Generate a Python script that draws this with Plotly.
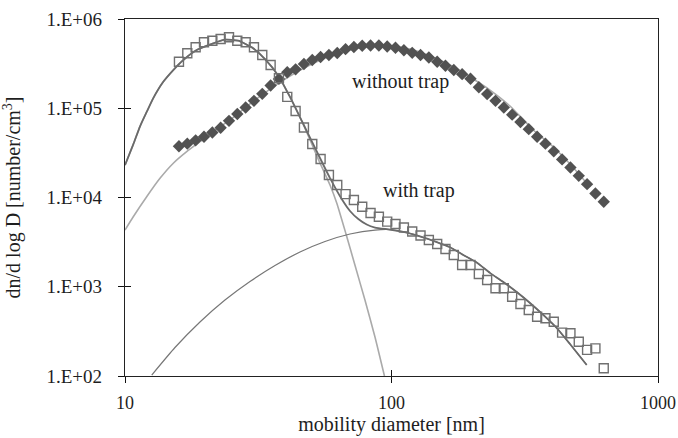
import plotly.graph_objects as go

# ---------------- data ----------------
# measured channels (mobility diameter, nm)
diam = [15.94, 17.13, 18.41, 19.79, 21.27, 22.85, 24.56, 26.39, 28.36, 30.47,
        32.74, 35.19, 37.81, 40.63, 43.67, 46.93, 50.43, 54.19, 58.23, 62.58,
        67.24, 72.26, 77.65, 83.44, 89.67, 96.36, 103.5, 111.3, 119.6, 128.5,
        138.1, 148.4, 159.4, 171.3, 184.1, 197.9, 212.7, 228.5, 245.6, 263.9,
        283.6, 304.7, 327.4, 351.9, 378.1, 406.3, 436.7, 469.3, 504.3, 541.9,
        582.3, 625.8]

with_trap = [3.32e5, 4.13e5, 4.82e5, 5.48e5, 5.71e5, 5.97e5, 6.24e5, 5.71e5, 5.48e5, 4.82e5,
             3.95e5, 3.05e5, 2.17e5, 1.34e5, 9.32e4, 6.09e4, 3.98e4, 2.70e4, 1.79e4, 1.38e4,
             1.09e4, 9.38e3, 7.89e3, 6.70e3, 6.09e3, 5.36e3, 5.05e3, 4.61e3, 4.16e3, 3.75e3,
             3.34e3, 3.01e3, 2.65e3, 2.27e3, 1.75e3, 1.75e3, 1.39e3, 1.19e3, 961, 961,
             774, 641, 549, 462, 443, 406, 306, 301, 242, 196,
             204, 122]

without_trap = [3.75e4, 4.01e4, 4.37e4, 4.80e4, 5.35e4, 6.04e4, 7.23e4, 8.62e4, 1.02e5, 1.21e5,
                1.45e5, 1.80e5, 2.13e5, 2.53e5, 2.73e5, 3.13e5, 3.47e5, 3.75e5, 3.95e5, 4.16e5,
                4.59e5, 4.86e5, 5.01e5, 5.05e5, 5.05e5, 4.92e5, 4.76e5, 4.46e5, 4.18e5, 3.95e5,
                3.70e5, 3.32e5, 2.99e5, 2.68e5, 2.41e5, 2.14e5, 1.72e5, 1.44e5, 1.21e5, 1.02e5,
                8.47e4, 7.01e4, 5.83e4, 4.80e4, 4.01e4, 3.29e4, 2.67e4, 2.17e4, 1.75e4, 1.41e4,
                1.11e4, 8.97e3]

# fitted curves
fit_total_d = [10.0, 10.74, 11.38, 12.06, 12.77, 13.92, 15.18, 16.55, 18.58, 21.45,
               23.72, 26.61, 29.88, 33.52, 37.60, 41.60, 46.67, 53.90, 58.78, 65.04,
               69.87, 75.07, 80.73, 86.74, 98.72, 110.7, 127.9, 147.8, 165.8, 186.0,
               208.8, 234.2, 262.8, 295.0, 330.9, 371.2, 416.8, 467.6, 540.1]
fit_total_n = [2.31e4, 3.93e4, 6.24e4, 9.08e4, 1.30e5, 1.98e5, 2.68e5, 3.47e5, 4.49e5, 5.34e5,
               5.86e5, 5.71e5, 4.82e5, 3.56e5, 2.32e5, 1.34e5, 6.66e4, 2.77e4, 1.65e4, 9.62e3,
               7.06e3, 5.74e3, 4.98e3, 4.61e3, 4.37e3, 4.11e3, 3.66e3, 3.17e3, 2.77e3, 2.27e3,
               1.87e3, 1.43e3, 1.13e3, 873, 658, 483, 345, 228, 133]

fit_nuc_d = [10.0, 10.74, 11.38, 12.06, 12.77, 13.92, 15.18, 16.55, 18.58, 21.45,
             23.72, 26.61, 29.88, 33.52, 37.60, 41.60, 46.67, 53.90, 58.78, 62.3,
             67.5, 72.9, 79.5, 86.7, 94.1]
fit_nuc_n = [2.31e4, 3.93e4, 6.24e4, 9.08e4, 1.30e5, 1.98e5, 2.68e5, 3.47e5, 4.49e5, 5.34e5,
             5.86e5, 5.71e5, 4.82e5, 3.56e5, 2.32e5, 1.34e5, 6.60e4, 2.44e4, 1.38e4, 8.68e3,
             3.90e3, 1.75e3, 710, 274, 100]

fit_acc_d = [12.60, 15.40, 19.11, 23.72, 29.44, 36.54, 45.36, 56.29, 69.87, 86.74,
             98.72, 110.7, 127.9, 147.8, 165.8, 186.0, 208.8, 234.2, 262.8, 295.0,
             330.9, 371.2, 416.8, 467.6, 540.1]
fit_acc_n = [102.6, 208.6, 403, 710, 1145, 1730, 2452, 3214, 3900, 4320,
             4370, 4110, 3660, 3170, 2770, 2270, 1870, 1430, 1130, 873,
             658, 483, 345, 228, 133]

fit_without_d = [10.0, 10.74, 12.06, 13.53, 15.18, 17.04, 19.11, 21.45, 24.77, 29.44,
                 35.0, 41.6, 49.45, 58.78, 69.87, 83.06, 98.72, 117.3, 139.5, 165.8,
                 197.0, 234.2, 278.4, 340.5, 404.8, 467.6, 555.7]
fit_without_n = [4.32e3, 6.09e3, 1.02e4, 1.64e4, 2.42e4, 3.26e4, 4.22e4, 5.49e4, 7.39e4, 1.12e5,
                 1.64e5, 2.30e5, 3.05e5, 3.85e5, 4.49e5, 4.92e5, 4.98e5, 4.61e5, 3.85e5, 3.05e5,
                 2.24e5, 1.60e5, 1.06e5, 5.71e4, 3.68e4, 2.37e4, 1.31e4]

x_ticks = [10, 100, 1000]
x_tick_text = ["10", "100", "1000"]
y_ticks = [1e2, 1e3, 1e4, 1e5, 1e6]
y_tick_text = ["1.E+02", "1.E+03", "1.E+04", "1.E+05", "1.E+06"]

# ---------------- styles ----------------
FONT = "Liberation Serif, Times New Roman, serif"
DARK = "#6a6a6a"
LIGHT = "#aaaaaa"
TXT = "#1e1e1e"
FS = 20
FT = 19
FX = 18

fig = go.Figure()

fig.add_trace(go.Scatter(x=fit_without_d, y=fit_without_n, mode="lines",
                         line=dict(color=LIGHT, width=1.6, shape="spline", smoothing=0.5),
                         showlegend=False))
fig.add_trace(go.Scatter(x=fit_nuc_d, y=fit_nuc_n, mode="lines",
                         line=dict(color=LIGHT, width=1.6, shape="spline", smoothing=0.5),
                         showlegend=False))
fig.add_trace(go.Scatter(x=fit_acc_d, y=fit_acc_n, mode="lines",
                         line=dict(color="#777777", width=1.2, shape="spline", smoothing=0.5),
                         showlegend=False))
fig.add_trace(go.Scatter(x=fit_total_d, y=fit_total_n, mode="lines",
                         line=dict(color=DARK, width=1.8, shape="spline", smoothing=0.5),
                         showlegend=False))
fig.add_trace(go.Scatter(x=diam, y=without_trap, mode="markers",
                         marker=dict(symbol="diamond", size=9.5, color="#525252",
                                     line=dict(width=0)),
                         showlegend=False))
fig.add_trace(go.Scatter(x=diam, y=with_trap, mode="markers",
                         marker=dict(symbol="square-open", size=9, color="#707070",
                                     line=dict(width=1.4, color="#707070")),
                         showlegend=False, xaxis="x2", yaxis="y2"))

axis_common = dict(showgrid=False, zeroline=False, automargin=False)

fig.update_layout(
    template="none",
    width=678, height=438,
    margin=dict(l=125, r=20, t=19, b=62),
    paper_bgcolor="white", plot_bgcolor="white",
    font=dict(family=FONT, size=FS, color=TXT),
    xaxis=dict(type="log", range=[1, 3], tickvals=x_ticks, ticktext=x_tick_text,
               ticks="outside", ticklen=6, tickwidth=1.3, tickcolor="#111",
               showline=True, linecolor="#222", linewidth=1.4, mirror=True,
               ticklabelstandoff=4, ticklabeloverflow="allow",
               tickfont=dict(family=FONT, size=FX, color=TXT),
               title=dict(text="mobility diameter [nm]", standoff=2,
                          font=dict(family=FONT, size=FS, color=TXT)),
               **axis_common),
    yaxis=dict(type="log", range=[2, 6], tickvals=y_ticks, ticktext=y_tick_text,
               ticks="outside", ticklen=6, tickwidth=1.3, tickcolor="#111",
               showline=True, linecolor="#222", linewidth=1.4, mirror=True,
               ticklabelstandoff=12, ticklabeloverflow="allow",
               tickfont=dict(family=FONT, size=FT, color=TXT),
               title=dict(text="dn/d log D [number/cm<sup>3</sup>]", standoff=20,
                          font=dict(family=FONT, size=FS, color=TXT)),
               **axis_common),
    xaxis2=dict(type="log", range=[1, 3], overlaying="x", anchor="y2", side="bottom",
                tickvals=x_ticks, ticks="inside", ticklen=6, tickwidth=1.3, tickcolor="#111",
                showticklabels=False, showline=False, **axis_common),
    yaxis2=dict(type="log", range=[2, 6], overlaying="y", anchor="x2", side="left",
                tickvals=y_ticks, ticks="inside", ticklen=6, tickwidth=1.3, tickcolor="#111",
                showticklabels=False, showline=False, **axis_common),
    annotations=[
        dict(text="without trap", x=2.032, y=5.2975, xref="x", yref="y",
             showarrow=False, font=dict(family=FONT, size=FS, color=TXT)),
        dict(text="with trap", x=2.104, y=4.073, xref="x", yref="y",
             showarrow=False, font=dict(family=FONT, size=FS, color=TXT)),
    ],
)

# remove the default page margin so the figure sits at the window's top-left corner
fig.write_html("out.html",
               config={"displayModeBar": False},
               post_script="document.body.style.margin='0';document.body.style.overflow='hidden';")
